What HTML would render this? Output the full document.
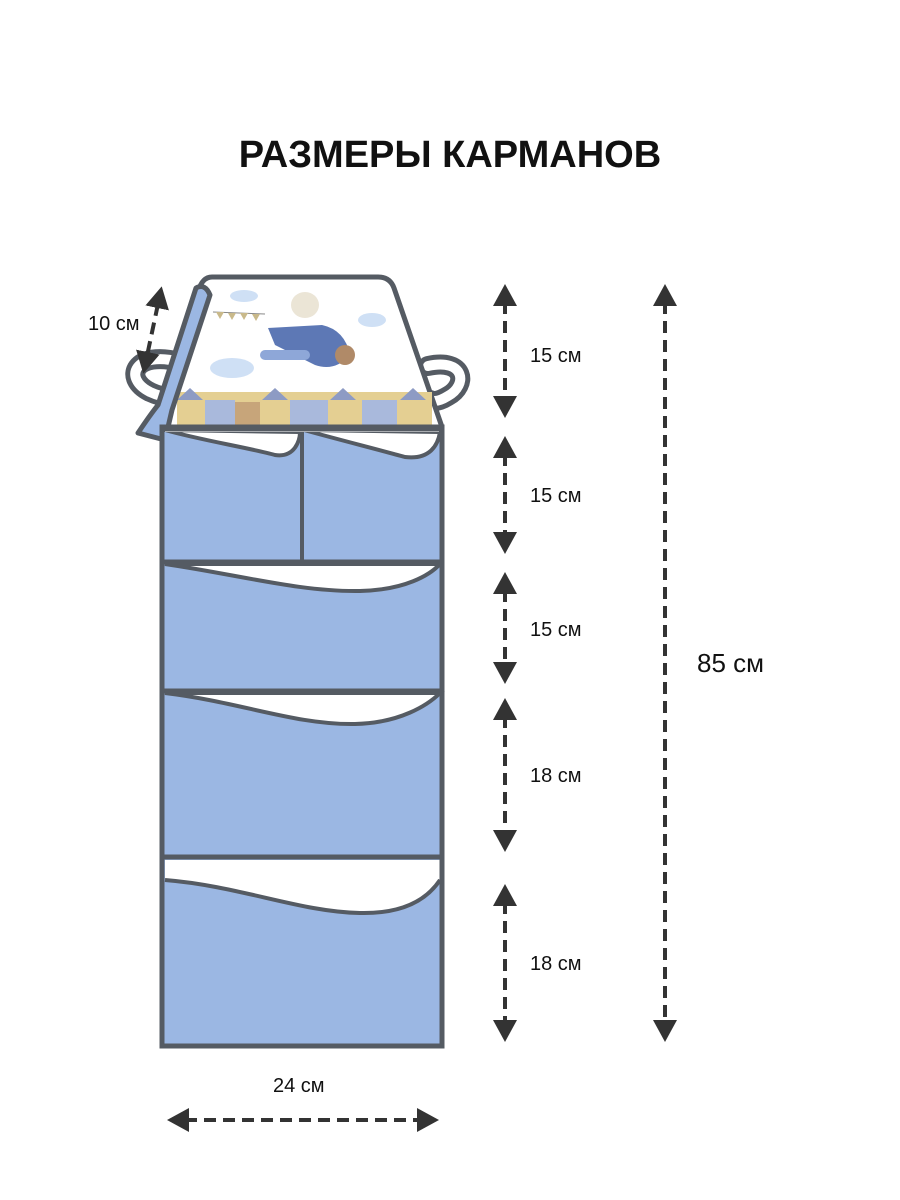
<!DOCTYPE html>
<html><head><meta charset="utf-8"><style>
html,body{margin:0;padding:0;background:#fff}
svg{display:block}
text{font-family:"Liberation Sans",Arial,sans-serif;fill:#111}
</style></head><body>
<svg width="900" height="1200" viewBox="0 0 900 1200" xmlns="http://www.w3.org/2000/svg">
<defs>
<marker id="ah" markerWidth="6" markerHeight="6" refX="1" refY="3" orient="auto-start-reverse" markerUnits="strokeWidth">
<path d="M0,0 L5.5,3 L0,6 Z" fill="#333"/>
</marker>
</defs>
<text x="450" y="167" text-anchor="middle" font-size="38" font-weight="bold" fill="#333">РАЗМЕРЫ КАРМАНОВ</text>

<!-- loops -->
<path d="M180 362 C135 350,122 378,150 392 C165 399,178 398,183 395" fill="none" stroke="#555b63" stroke-width="20" stroke-linecap="round"/>
<path d="M180 362 C135 350,122 378,150 392 C165 399,178 398,183 395" fill="none" stroke="#fff" stroke-width="10" stroke-linecap="round"/>
<path d="M428 366 C465 358,468 385,448 396 C440 401,434 402,430 400" fill="none" stroke="#555b63" stroke-width="20" stroke-linecap="round"/>
<path d="M428 366 C465 358,468 385,448 396 C440 401,434 402,430 400" fill="none" stroke="#fff" stroke-width="10" stroke-linecap="round"/>

<!-- top panel -->
<path d="M212 277 L378 277 Q390 277 394 288 L442 427 L165 427 L198 292 Q202 277 212 277 Z" fill="#fff" stroke="#555b63" stroke-width="5" stroke-linejoin="round"/>
<g>
<ellipse cx="244" cy="296" rx="14" ry="6" fill="#cfe0f5"/>
<ellipse cx="372" cy="320" rx="14" ry="7" fill="#cfe0f5"/>
<ellipse cx="232" cy="368" rx="22" ry="10" fill="#cfe0f5"/>
<path d="M213 312 L265 314" stroke="#888" stroke-width="1"/>
<path d="M216 312 l4 7 l4 -7 M228 313 l4 7 l4 -7 M240 313 l4 7 l4 -7 M252 314 l4 7 l4 -7" fill="#c9b98a"/>
<ellipse cx="305" cy="305" rx="14" ry="13" fill="#ebe5d6"/>
<path d="M268 328 L322 325 Q345 330 350 355 Q335 372 315 365 L275 345 Z" fill="#5d78b5"/>
<rect x="260" y="350" width="50" height="10" rx="5" fill="#8ea7d8"/>
<circle cx="345" cy="355" r="10" fill="#b08a68"/>
<rect x="177" y="392" width="255" height="35" fill="#e4cf92"/>
<path d="M177 400 L190 388 L203 400 Z M262 400 L275 388 L288 400 Z M330 400 L343 388 L356 400 Z M400 400 L413 388 L426 400 Z" fill="#8d9bc4"/>
<rect x="205" y="400" width="30" height="27" fill="#a9b9dc"/>
<rect x="290" y="400" width="38" height="27" fill="#a9b9dc"/>
<rect x="362" y="400" width="35" height="27" fill="#a9b9dc"/>
<rect x="235" y="402" width="25" height="25" fill="#c7a57a"/>
</g>
<!-- strap -->
<path d="M196 288 Q205 283 210 295 L172 410 L165 440 L138 433 Q150 415 158 405 Z" fill="#9bb7e3" stroke="#555b63" stroke-width="5" stroke-linejoin="round"/>

<!-- body -->
<rect x="162" y="427" width="280" height="619" fill="#9bb7e3" stroke="#555b63" stroke-width="5"/>
<path d="M165 430 C200 440,250 448,275 455 C295 458,300 440,300 432 Z" fill="#fff" stroke="#555b63" stroke-width="4"/>
<path d="M304 430 C340 440,380 450,405 457 C430 460,438 445,440 432 Z" fill="#fff" stroke="#555b63" stroke-width="4"/>
<rect x="165" y="429" width="274" height="3" fill="#fff"/>
<line x1="162" y1="429" x2="442" y2="429" stroke="#555b63" stroke-width="5"/>
<line x1="302" y1="432" x2="302" y2="562" stroke="#555b63" stroke-width="4"/>
<line x1="162" y1="562" x2="442" y2="562" stroke="#555b63" stroke-width="5"/>
<path d="M165 564 C240 575,300 592,360 591 C405 590,430 575,440 564 Z" fill="#fff" stroke="#555b63" stroke-width="4"/>
<line x1="162" y1="691" x2="442" y2="691" stroke="#555b63" stroke-width="5"/>
<path d="M165 693 C240 702,295 725,355 724 C400 723,428 705,440 693 Z" fill="#fff" stroke="#555b63" stroke-width="4"/>
<line x1="162" y1="857" x2="442" y2="857" stroke="#555b63" stroke-width="5"/>
<path d="M165 860 L440 860 L440 880 C428 898,405 914,360 913 C300 912,240 886,165 880 Z" fill="#fff"/>
<path d="M165 880 C240 886,300 912,360 913 C405 914,428 898,440 880" fill="none" stroke="#555b63" stroke-width="4"/>
<rect x="162" y="427" width="280" height="619" fill="none" stroke="#555b63" stroke-width="5"/>

<!-- dimension arrows -->
<g stroke="#333" stroke-width="4" stroke-dasharray="12 7" fill="none" marker-start="url(#ah)" marker-end="url(#ah)">
<line x1="505" y1="302" x2="505" y2="400"/>
<line x1="505" y1="454" x2="505" y2="536"/>
<line x1="505" y1="590" x2="505" y2="666"/>
<line x1="505" y1="716" x2="505" y2="834"/>
<line x1="505" y1="902" x2="505" y2="1024"/>
<line x1="665" y1="302" x2="665" y2="1024"/>
<line x1="185" y1="1120" x2="421" y2="1120"/>
<line x1="158" y1="304" x2="147" y2="356"/>
</g>
<g font-size="20">
<text x="530" y="362">15 см</text>
<text x="530" y="502">15 см</text>
<text x="530" y="636">15 см</text>
<text x="530" y="782">18 см</text>
<text x="530" y="970">18 см</text>
<text x="273" y="1092">24 см</text>
<text x="88" y="330">10 см</text>
</g>
<text x="697" y="672" font-size="26">85 см</text>
</svg>
</body></html>
